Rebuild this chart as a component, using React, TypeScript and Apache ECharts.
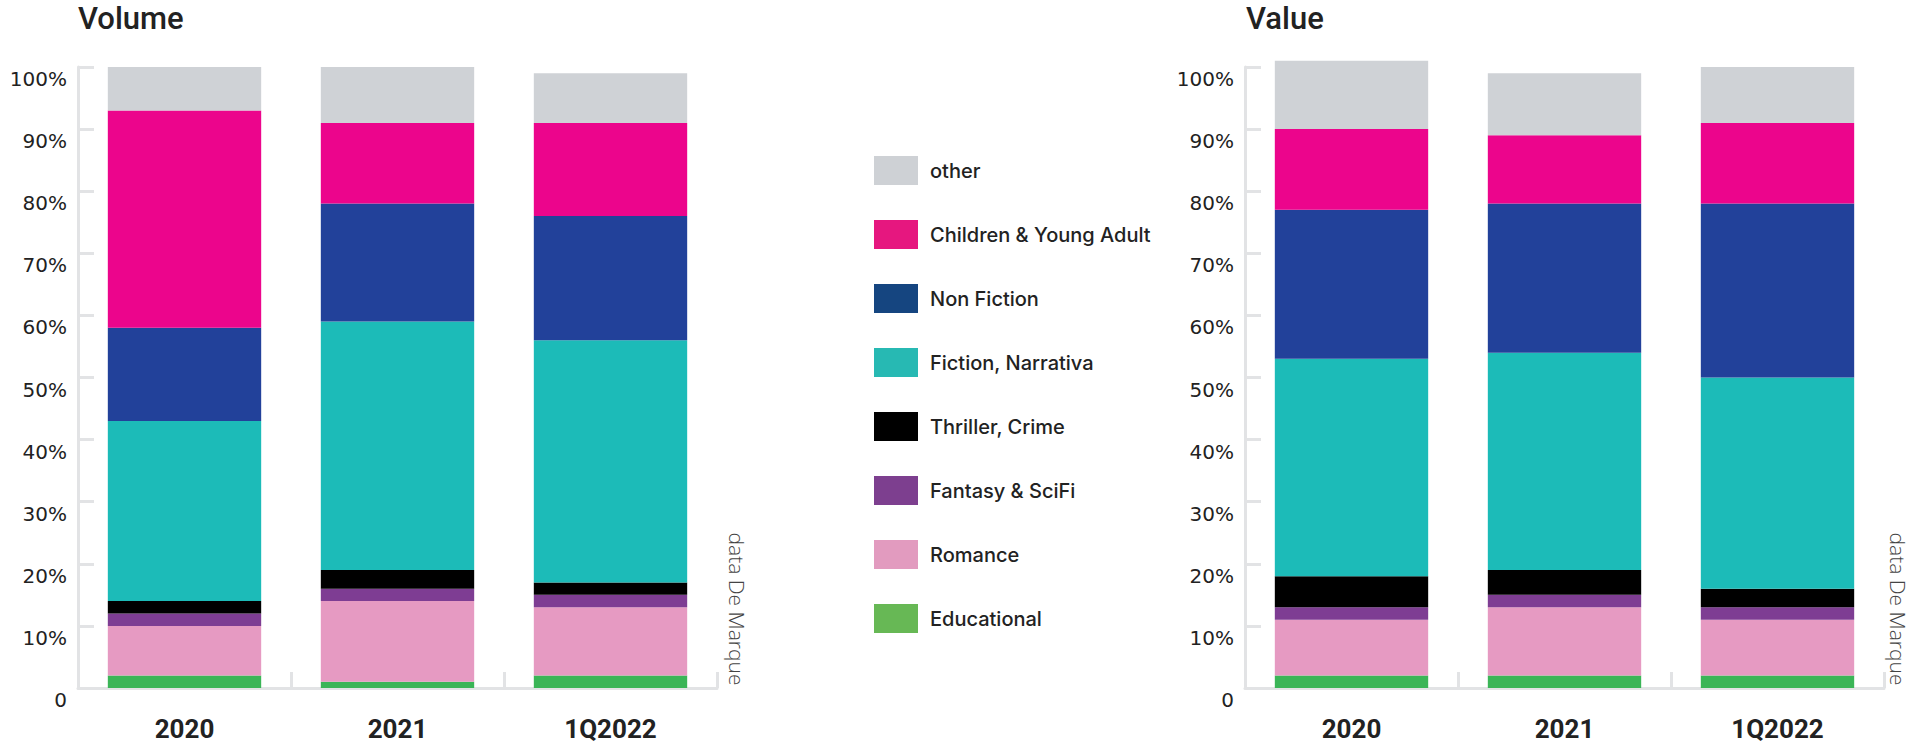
import React, { useEffect, useRef } from "react";
import * as echarts from "echarts";

const categories = ["2020", "2021", "1Q2022"];
const yTicks = [0, 10, 20, 30, 40, 50, 60, 70, 80, 90, 100];

const seriesNames = [
  "Educational",
  "Romance",
  "Fantasy & SciFi",
  "Thriller, Crime",
  "Fiction, Narrativa",
  "Non Fiction",
  "Children & Young Adult",
  "other",
];

// Volume shares (%) by category, bottom to top
const volEducational = [2, 1, 2];
const volRomance = [8, 13, 11];
const volFantasy = [2, 2, 2];
const volThriller = [2, 3, 2];
const volFiction = [29, 40, 39];
const volNonFiction = [15, 19, 20];
const volChildren = [35, 13, 15];
const volOther = [7, 9, 8];

// Value shares (%)
const valEducational = [2, 2, 2];
const valRomance = [9, 11, 9];
const valFantasy = [2, 2, 2];
const valThriller = [5, 4, 3];
const valFiction = [35, 35, 34];
const valNonFiction = [24, 24, 28];
const valChildren = [13, 11, 13];
const valOther = [11, 10, 9];

const barColors = ["#3bb557", "#e69ac2", "#7e3d93", "#000000", "#1cbbb8", "#22419a", "#ec058c", "#cfd2d6"];
const legendColors = ["#67b855", "#e29bbf", "#7d3f8f", "#000000", "#27b9b3", "#154580", "#e6177f", "#ced1d5"];

const volumeData = [volEducational, volRomance, volFantasy, volThriller, volFiction, volNonFiction, volChildren, volOther];
const valueData = [valEducational, valRomance, valFantasy, valThriller, valFiction, valNonFiction, valChildren, valOther];

const AXIS_COLOR = "#e2e3e5";

export default function App() {
  const ref = useRef<HTMLDivElement>(null);

  useEffect(() => {
    if (!ref.current) return;
    const chart = echarts.init(ref.current, undefined, { renderer: "svg" });

    const makeX = (gi: number) => ({
      type: "category",
      gridIndex: gi,
      data: categories,
      axisLine: { show: true, lineStyle: { color: AXIS_COLOR, width: 3 } },
      axisTick: { show: true, inside: true, length: 16, interval: 0, lineStyle: { color: AXIS_COLOR, width: 3 } },
      axisLabel: {
        margin: 28,
        fontFamily: "Roboto",
        fontWeight: "bold",
        fontSize: 26,
        color: "#222",
      },
      splitLine: { show: false },
    });

    const makeY = (gi: number) => ({
      type: "value",
      gridIndex: gi,
      min: yTicks[0],
      max: yTicks[yTicks.length - 1],
      interval: 10,
      axisLine: { show: true, lineStyle: { color: AXIS_COLOR, width: 3 } },
      axisTick: { show: true, inside: true, length: 16, lineStyle: { color: AXIS_COLOR, width: 3 } },
      axisLabel: {
        margin: 11,
        fontFamily: "DejaVu Sans",
        fontSize: 20,
        color: "#222",
        verticalAlign: "top",
        lineHeight: 24,
        formatter: (v: number) => (v === 0 ? "0" : v + "%"),
      },
      splitLine: { show: false },
    });

    const series: any[] = [];
    [volumeData, valueData].forEach((set, gi) => {
      set.forEach((arr, i) => {
        series.push({
          type: "bar",
          name: seriesNames[i],
          stack: gi === 0 ? "volume" : "value",
          xAxisIndex: gi,
          yAxisIndex: gi,
          data: arr,
          barWidth: "72%",
          clip: false,
          itemStyle: { color: barColors[i] },
          emphasis: { disabled: true },
        });
      });
    });

    const legendData = seriesNames
      .map((n, i) => ({ name: n, itemStyle: { color: legendColors[i] } }))
      .reverse();

    const sourceText = (x: number) => ({
      type: "text",
      x,
      y: 609,
      rotation: -Math.PI / 2,
      style: {
        text: "data De Marque",
        fontFamily: "Open Sans",
        fontWeight: 300,
        fontSize: 21,
        fill: "#444",
        align: "center",
        verticalAlign: "middle",
      },
    });

    const titleText = (x: number, t: string) => ({
      type: "text",
      x,
      y: 18,
      style: {
        text: t,
        fontFamily: "Roboto",
        fontWeight: 500,
        fontSize: 31,
        fill: "#222",
        align: "left",
        verticalAlign: "middle",
      },
    });

    chart.setOption({
      animation: false,
      grid: [
        { left: 78, right: 1913 - 717, top: 67, bottom: 56 },
        { left: 1245, right: 29, top: 67, bottom: 56 },
      ],
      xAxis: [makeX(0), makeX(1)],
      yAxis: [makeY(0), makeY(1)],
      legend: {
        orient: "vertical",
        left: 874,
        top: 156,
        padding: 0,
        itemWidth: 44,
        itemHeight: 29,
        itemGap: 35,
        icon: "rect",
        data: legendData,
        textStyle: {
          fontFamily: "Inter",
          fontSize: 20,
          fontWeight: 500,
          color: "#222",
          padding: [0, 0, 0, 7],
        },
      },
      graphic: [titleText(78, "Volume"), titleText(1246, "Value"), sourceText(737), sourceText(1898)],
      series,
    });

    return () => chart.dispose();
  }, []);

  return (
    <div
      ref={ref}
      style={{ position: "fixed", left: 0, top: 0, width: 1913, height: 744, background: "#fff" }}
    />
  );
}
